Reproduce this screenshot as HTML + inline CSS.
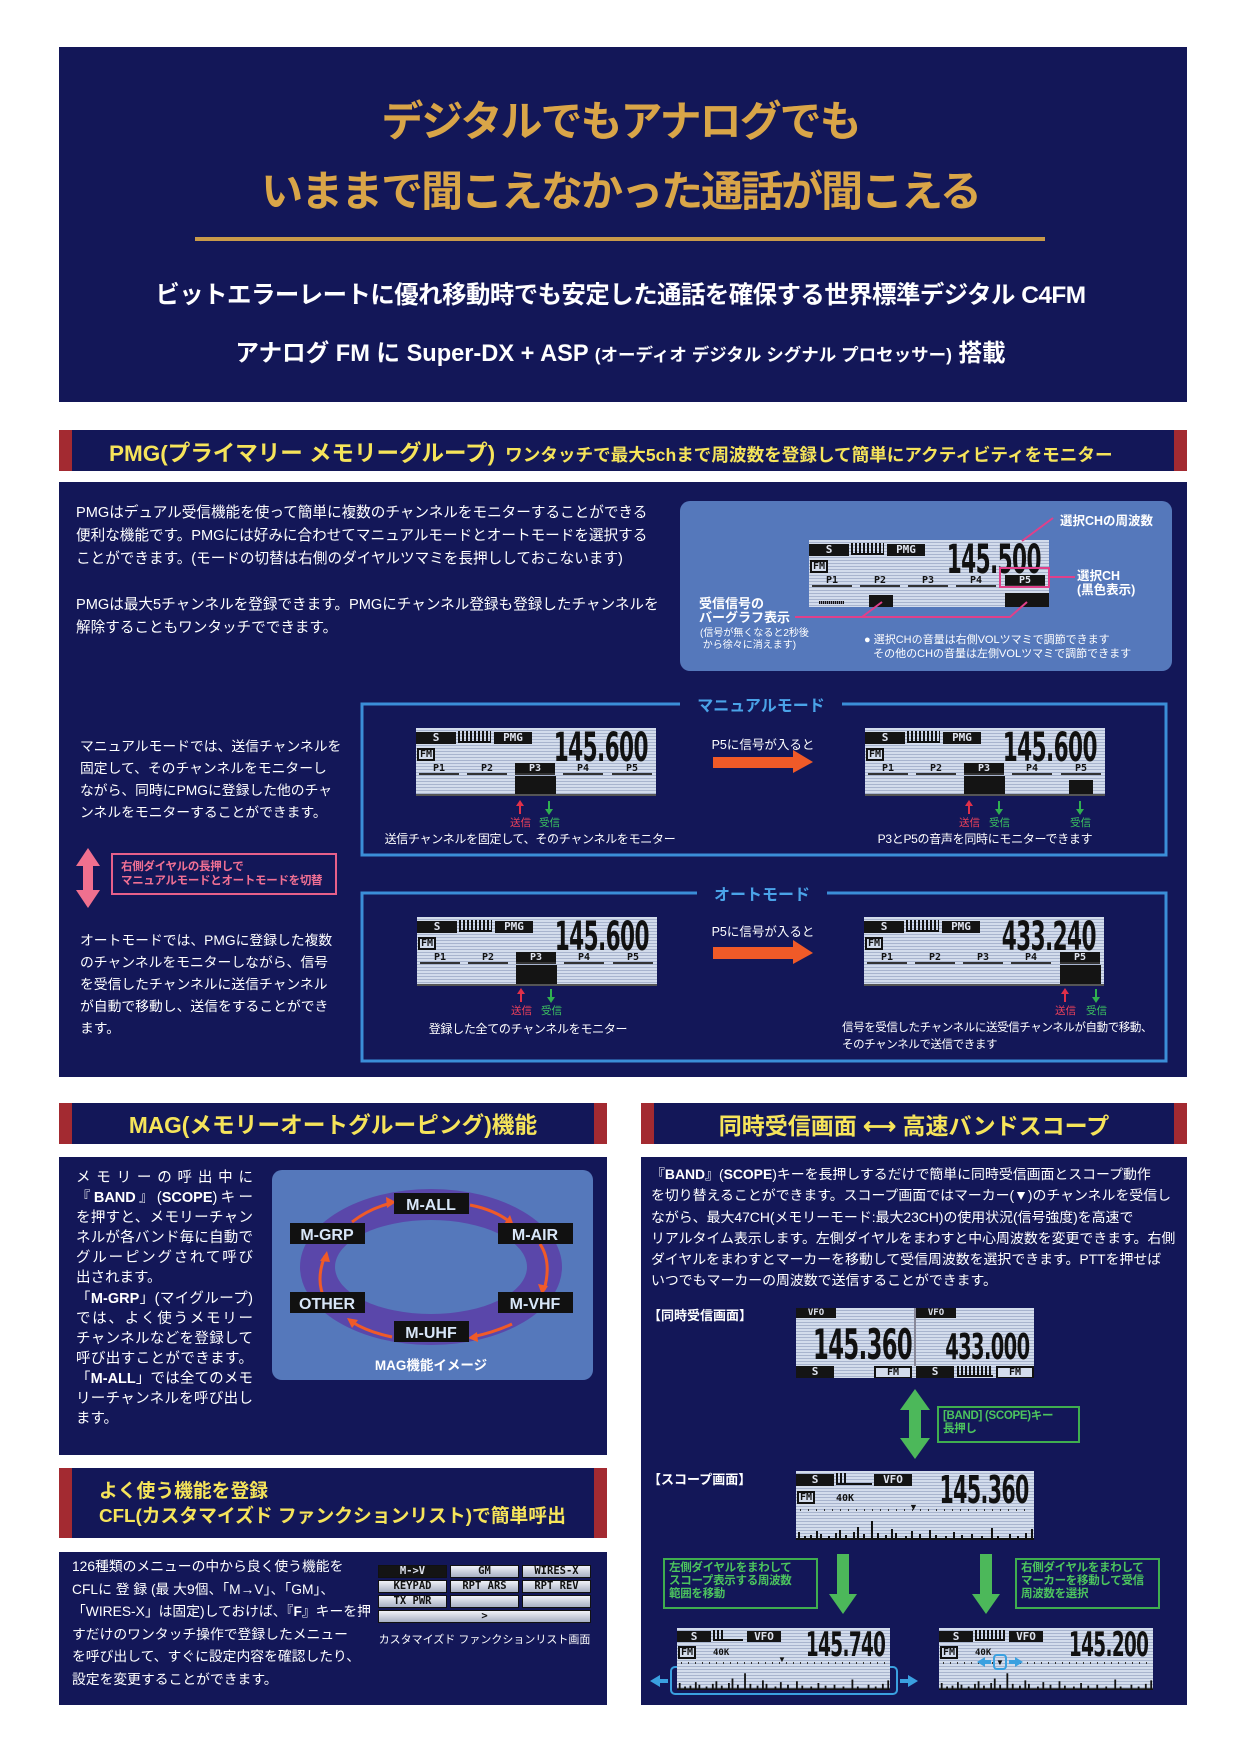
<!DOCTYPE html>
<html><head><meta charset="utf-8">
<style>
*{margin:0;padding:0;box-sizing:border-box}
body{width:1241px;height:1754px;background:#fff;position:relative;overflow:hidden;font-family:"Liberation Sans","Noto Sans CJK JP",sans-serif;color:#fff}
.a{position:absolute}
.nv{position:absolute;background:#131758}
.hd{position:absolute;background:#131758;border-left:13px solid #a32a31;border-right:13px solid #a32a31;color:#f6e45a;font-weight:bold}
.t{position:absolute;white-space:nowrap}
.lcd{position:absolute;overflow:hidden;background:repeating-linear-gradient(#d3dcec 0 2px,#a8b4ce 2px 3px)}
.lcd>*{position:absolute}
.k{background:#141414;color:#dfe3ee;font:bold 11px "DejaVu Sans Mono",monospace;text-align:center}
.fq{font-family:"Liberation Sans Narrow","DejaVu Sans Condensed","Liberation Sans",sans-serif;color:#111;transform:scaleX(.6);transform-origin:right top;white-space:nowrap;line-height:1;letter-spacing:-1px;font-weight:bold}
.mt{background:repeating-linear-gradient(90deg,#111 0 2px,transparent 2px 4px);border-bottom:2px solid #111}
.fm{border:2px solid #111;font:bold 10px "DejaVu Sans Mono",monospace;color:#111;background:#d3dcec;line-height:9px;padding:0 1px}
.p{top:35px;width:40px;height:12px;font:bold 10px "DejaVu Sans Mono",monospace;color:#111;text-align:center;border-bottom:2px solid #333;line-height:11px}
.ps{background:#141414;color:#dfe3ee}
.blk{background:#141414}
.jl{display:block;text-align:justify;text-align-last:justify;white-space:nowrap;height:20px}
.gb{position:absolute;border:2px solid #3fae4f;color:#4cc45e;font-weight:bold;font-size:11.5px;line-height:13px;padding:2px 4px;white-space:nowrap;letter-spacing:-.3px}
.cf{position:absolute;height:13px;border:1px solid #111;background:linear-gradient(#f0f2f8,#a8b0c4);font:bold 10.5px "DejaVu Sans Mono",monospace;color:#111;text-align:center;line-height:11px}
</style></head><body>

<div class="nv" style="left:59px;top:47px;width:1128px;height:355px"></div>
<div class="t" style="left:0;width:1241px;text-align:center;top:88px;font-size:42px;font-weight:bold;color:#d9a548;letter-spacing:-2px">デジタルでもアナログでも</div>
<div class="t" style="left:0;width:1241px;text-align:center;top:158px;font-size:42px;font-weight:bold;color:#d9a548;letter-spacing:-2px">いままで聞こえなかった通話が聞こえる</div>
<div class="a" style="left:195px;top:237px;width:850px;height:4px;background:#c99a4a"></div>
<div class="t" style="left:0;width:1241px;text-align:center;top:276px;font-size:24.4px;font-weight:bold;letter-spacing:-.5px">ビットエラーレートに優れ移動時でも安定した通話を確保する世界標準デジタル C4FM</div>
<div class="t" style="left:0;width:1241px;text-align:center;top:334px;font-size:23.6px;font-weight:bold">アナログ FM に Super-DX + ASP <span style="font-size:17.5px">(オーディオ デジタル シグナル プロセッサー)</span> 搭載</div>

<div class="hd" style="left:59px;top:430px;width:1128px;height:41px"></div>
<div class="t" style="left:109px;top:436px;color:#f6e45a;font-weight:bold;font-size:22.5px">PMG(プライマリー メモリーグループ)<span style="font-size:17.6px;margin-left:10px">ワンタッチで最大5chまで周波数を登録して簡単にアクティビティをモニター</span></div>

<div class="nv" style="left:59px;top:482px;width:1128px;height:595px"></div>
<div class="a" style="left:76px;top:502px;font-size:14.6px;line-height:23px;white-space:nowrap">PMGはデュアル受信機能を使って簡単に複数のチャンネルをモニターすることができる<br>便利な機能です。PMGには好みに合わせてマニュアルモードとオートモードを選択する<br>ことができます。(モードの切替は右側のダイヤルツマミを長押ししておこないます)<br><br>PMGは最大5チャンネルを登録できます。PMGにチャンネル登録も登録したチャンネルを<br>解除することもワンタッチでできます。</div>

<div class="a" style="left:680px;top:501px;width:492px;height:170px;background:#5578bb;border-radius:10px"></div>
<div class="lcd" style="left:809px;top:540px;width:240px;height:67px">
<b class="k" style="left:0;top:4px;width:40px;height:12px;line-height:12px">S</b>
<i class="mt" style="left:42px;top:3px;width:33px;height:12px"></i>
<b class="k" style="left:78px;top:4px;width:38px;height:12px;line-height:12px">PMG</b>
<span class="fq" style="right:8px;top:0;font-size:40px">145.500</span>
<b class="fm" style="left:1px;top:20px">FM</b>
<span class="p" style="left:3px">P1</span><span class="p" style="left:51px">P2</span><span class="p" style="left:99px">P3</span><span class="p" style="left:147px">P4</span><span class="p ps" style="left:196px">P5</span>
<i class="blk" style="left:60px;top:55px;width:24px;height:12px"></i>
<i class="blk" style="left:196px;top:53px;width:44px;height:14px"></i>
<i style="left:10px;top:61px;width:25px;height:3px;background:repeating-linear-gradient(90deg,#111 0 1px,#889 1px 2px)"></i>
</div>
<svg class="a" style="left:0;top:0" width="1241" height="1754">
<g stroke="#e0408a" stroke-width="2" fill="none">
<path d="M1022 541L1053 518"/>
<rect x="1000" y="568" width="49" height="19"/>
<path d="M1049 577H1075"/>
<path d="M795 617H1010L1027 602M862 617L882 602"/>
</g>
</svg>
<div class="t" style="left:1060px;top:510px;font-size:12.5px;font-weight:bold">選択CHの周波数</div>
<div class="t" style="left:1077px;top:569px;font-size:12.5px;font-weight:bold;line-height:14px">選択CH<br>(黒色表示)</div>
<div class="t" style="left:699px;top:597px;font-size:13px;font-weight:bold;line-height:14px">受信信号の<br>バーグラフ表示</div>
<div class="t" style="left:700px;top:628px;font-size:10px;line-height:12px">(信号が無くなると2秒後<br>&nbsp;から徐々に消えます)</div>
<div class="t" style="left:864px;top:633px;font-size:11px;line-height:14px">● 選択CHの音量は右側VOLツマミで調節できます<br>&nbsp;&nbsp;&nbsp;その他のCHの音量は左側VOLツマミで調節できます</div>

<div class="a" style="left:80px;top:736px;font-size:13.8px;line-height:22px;white-space:nowrap">マニュアルモードでは、送信チャンネルを<br>固定して、そのチャンネルをモニターし<br>ながら、同時にPMGに登録した他のチャ<br>ンネルをモニターすることができます。</div>
<div class="a" style="left:80px;top:930px;font-size:13.8px;line-height:22px;white-space:nowrap">オートモードでは、PMGに登録した複数<br>のチャンネルをモニターしながら、信号<br>を受信したチャンネルに送信チャンネル<br>が自動で移動し、送信をすることができ<br>ます。</div>
<div class="a" style="left:111px;top:853px;width:226px;height:42px;border:2px solid #e8608a;color:#f07094;font-size:11.5px;font-weight:bold;line-height:14px;padding:5px 8px;white-space:nowrap;letter-spacing:-.3px">右側ダイヤルの長押しで<br>マニュアルモードとオートモードを切替</div>

<svg class="a" style="left:0;top:0" width="1241" height="1754">
<rect x="362" y="704" width="804" height="151" fill="none" stroke="#3b8ed8" stroke-width="3"/>
<rect x="362" y="893" width="804" height="168" fill="none" stroke="#3b8ed8" stroke-width="3"/>
<rect x="680" y="694" width="162" height="20" fill="#131758"/>
<rect x="697" y="883" width="130" height="20" fill="#131758"/>
<polygon points="88,848 100,866 93,866 93,890 100,890 88,908 76,890 83,890 83,866 76,866" fill="#f0708f"/>
<g fill="#f05a28">
<polygon points="713,757 793,757 793,750 813,762 793,773 793,768 713,768"/>
<polygon points="713,947 793,947 793,940 813,953 793,964 793,959 713,959"/>
</g>
<g stroke-width="2">
<g stroke="#e0304a"><path d="M520 814V804"/><path d="M969 814V804"/><path d="M521 1002V992"/><path d="M1065 1002V992"/></g>
<g stroke="#30b050"><path d="M549 801V811"/><path d="M999 801V811"/><path d="M1080 801V811"/><path d="M551 989V999"/><path d="M1096 989V999"/></g>
</g>
<g fill="#e0304a"><polygon points="516,806 520,800 524,806"/><polygon points="965,806 969,800 973,806"/><polygon points="517,994 521,988 525,994"/><polygon points="1061,994 1065,988 1069,994"/></g>
<g fill="#30b050"><polygon points="545,809 549,815 553,809"/><polygon points="995,809 999,815 1003,809"/><polygon points="1076,809 1080,815 1084,809"/><polygon points="547,997 551,1003 555,997"/><polygon points="1092,997 1096,1003 1100,997"/></g>
</svg>
<div class="t" style="left:680px;width:162px;text-align:center;top:692px;color:#4aa3e8;font-weight:bold;font-size:16px">マニュアルモード</div>
<div class="t" style="left:697px;width:130px;text-align:center;top:881px;color:#4aa3e8;font-weight:bold;font-size:16px">オートモード</div>
<div class="t" style="left:703px;width:120px;text-align:center;top:734px;font-size:12.5px">P5に信号が入ると</div>
<div class="t" style="left:703px;width:120px;text-align:center;top:921px;font-size:12.5px">P5に信号が入ると</div>
<div class="t" style="font-size:10.5px;color:#e8405a;left:510px;top:815px">送信</div><div class="t" style="font-size:10.5px;color:#3cc060;left:539px;top:815px">受信</div>
<div class="t" style="font-size:10.5px;color:#e8405a;left:959px;top:815px">送信</div><div class="t" style="font-size:10.5px;color:#3cc060;left:989px;top:815px">受信</div><div class="t" style="font-size:10.5px;color:#3cc060;left:1070px;top:815px">受信</div>
<div class="t" style="font-size:10.5px;color:#e8405a;left:511px;top:1003px">送信</div><div class="t" style="font-size:10.5px;color:#3cc060;left:541px;top:1003px">受信</div>
<div class="t" style="font-size:10.5px;color:#e8405a;left:1055px;top:1003px">送信</div><div class="t" style="font-size:10.5px;color:#3cc060;left:1086px;top:1003px">受信</div>
<div class="t" style="left:380px;width:300px;text-align:center;top:830px;font-size:12px;letter-spacing:-.3px">送信チャンネルを固定して、そのチャンネルをモニター</div>
<div class="t" style="left:850px;width:270px;text-align:center;top:830px;font-size:12px;letter-spacing:-.3px">P3とP5の音声を同時にモニターできます</div>
<div class="t" style="left:380px;width:296px;text-align:center;top:1020px;font-size:12px;letter-spacing:-.3px">登録した全てのチャンネルをモニター</div>
<div class="t" style="left:842px;top:1020px;font-size:11.5px;line-height:17px;letter-spacing:-.4px">信号を受信したチャンネルに送受信チャンネルが自動で移動、<br>そのチャンネルで送信できます</div>

<div class="lcd" style="left:416px;top:728px;width:240px;height:68px">
<b class="k" style="left:0;top:4px;width:40px;height:12px;line-height:12px">S</b><i class="mt" style="left:42px;top:3px;width:33px;height:12px"></i><b class="k" style="left:78px;top:4px;width:38px;height:12px;line-height:12px">PMG</b>
<span class="fq" style="right:8px;top:0;font-size:40px">145.600</span><b class="fm" style="left:1px;top:20px">FM</b>
<span class="p" style="left:3px">P1</span><span class="p" style="left:51px">P2</span><span class="p ps" style="left:99px">P3</span><span class="p" style="left:147px">P4</span><span class="p" style="left:196px">P5</span>
<i class="blk" style="left:99px;top:48px;width:41px;height:18px"></i><i style="left:0;top:66px;width:240px;height:2px;background:#555"></i></div>
<div class="lcd" style="left:865px;top:728px;width:240px;height:68px">
<b class="k" style="left:0;top:4px;width:40px;height:12px;line-height:12px">S</b><i class="mt" style="left:42px;top:3px;width:33px;height:12px"></i><b class="k" style="left:78px;top:4px;width:38px;height:12px;line-height:12px">PMG</b>
<span class="fq" style="right:8px;top:0;font-size:40px">145.600</span><b class="fm" style="left:1px;top:20px">FM</b>
<span class="p" style="left:3px">P1</span><span class="p" style="left:51px">P2</span><span class="p ps" style="left:99px">P3</span><span class="p" style="left:147px">P4</span><span class="p" style="left:196px">P5</span>
<i class="blk" style="left:99px;top:48px;width:41px;height:18px"></i><i class="blk" style="left:204px;top:52px;width:24px;height:14px"></i><i style="left:0;top:66px;width:240px;height:2px;background:#555"></i></div>
<div class="lcd" style="left:417px;top:917px;width:240px;height:69px">
<b class="k" style="left:0;top:4px;width:40px;height:12px;line-height:12px">S</b><i class="mt" style="left:42px;top:3px;width:33px;height:12px"></i><b class="k" style="left:78px;top:4px;width:38px;height:12px;line-height:12px">PMG</b>
<span class="fq" style="right:8px;top:0;font-size:40px">145.600</span><b class="fm" style="left:1px;top:20px">FM</b>
<span class="p" style="left:3px">P1</span><span class="p" style="left:51px">P2</span><span class="p ps" style="left:99px">P3</span><span class="p" style="left:147px">P4</span><span class="p" style="left:196px">P5</span>
<i class="blk" style="left:99px;top:48px;width:41px;height:19px"></i><i style="left:0;top:67px;width:240px;height:2px;background:#555"></i></div>
<div class="lcd" style="left:864px;top:917px;width:240px;height:69px">
<b class="k" style="left:0;top:4px;width:40px;height:12px;line-height:12px">S</b><i class="mt" style="left:42px;top:3px;width:33px;height:12px"></i><b class="k" style="left:78px;top:4px;width:38px;height:12px;line-height:12px">PMG</b>
<span class="fq" style="right:8px;top:0;font-size:40px">433.240</span><b class="fm" style="left:1px;top:20px">FM</b>
<span class="p" style="left:3px">P1</span><span class="p" style="left:51px">P2</span><span class="p" style="left:99px">P3</span><span class="p" style="left:147px">P4</span><span class="p ps" style="left:196px">P5</span>
<i class="blk" style="left:196px;top:48px;width:41px;height:19px"></i><i style="left:0;top:67px;width:240px;height:2px;background:#555"></i></div>

<div class="hd" style="left:59px;top:1103px;width:548px;height:41px"></div>
<div class="t" style="left:59px;width:548px;text-align:center;top:1107px;color:#f6e45a;font-weight:bold;font-size:22.7px">MAG(メモリーオートグルーピング)機能</div>
<div class="nv" style="left:59px;top:1157px;width:548px;height:298px"></div>
<div class="a" style="left:76px;top:1168px;width:177px;font-size:14.5px;line-height:20.7px">
<span class="jl">メモリーの呼出中に</span><span class="jl">『<b>BAND</b>』(<b>SCOPE</b>)キー</span><span class="jl">を押すと、メモリーチャン</span><span class="jl">ネルが各バンド毎に自動で</span><span class="jl">グルーピングされて呼び</span><span style="display:block;height:20.7px">出されます。</span><span class="jl">「<b>M-GRP</b>」(マイグループ)</span><span class="jl">では、よく使うメモリー</span><span class="jl">チャンネルなどを登録して</span><span class="jl">呼び出すことができます。</span><span class="jl">「<b>M-ALL</b>」では全てのメモ</span><span class="jl">リーチャンネルを呼び出し</span><span style="display:block">ます。</span></div>
<div class="a" style="left:272px;top:1170px;width:321px;height:210px;background:#5578bb;border-radius:10px"></div>
<svg class="a" style="left:0;top:0" width="1241" height="1754">
<ellipse cx="431" cy="1267" rx="131" ry="78" fill="#5a47aa"/>
<ellipse cx="431" cy="1267" rx="96" ry="47" fill="#5578bb"/>
<g stroke="#f05a28" stroke-width="3" fill="none">
<path d="M352 1222Q370 1208 392 1203"/><path d="M470 1205Q495 1210 510 1222"/><path d="M540 1244Q552 1262 544 1290"/><path d="M512 1324Q495 1332 472 1337"/><path d="M392 1337Q368 1332 352 1322"/><path d="M325 1300Q315 1280 325 1256"/>
</g>
<g fill="#f05a28"><polygon points="396,1202 386,1197 387,1208"/><polygon points="514,1226 504,1224 510,1215"/><polygon points="542,1295 538,1284 548,1286"/><polygon points="468,1338 477,1332 478,1342"/><polygon points="347,1318 358,1320 352,1328"/><polygon points="327,1251 320,1261 330,1262"/></g>
<g fill="#111"><rect x="394" y="1193" width="75" height="21"/><rect x="290" y="1223" width="75" height="21"/><rect x="498" y="1223" width="75" height="21"/><rect x="290" y="1292" width="75" height="21"/><rect x="498" y="1292" width="75" height="21"/><rect x="394" y="1321" width="75" height="21"/></g>
<g fill="#d8e6f8" font-family="Liberation Sans" font-weight="bold" font-size="16" text-anchor="middle">
<text x="431" y="1210">M-ALL</text><text x="327" y="1240">M-GRP</text><text x="535" y="1240">M-AIR</text><text x="327" y="1309">OTHER</text><text x="535" y="1309">M-VHF</text><text x="431" y="1338">M-UHF</text></g>
<text x="431" y="1370" fill="#fff" font-family="Liberation Sans,Noto Sans CJK JP" font-weight="bold" font-size="13.5" text-anchor="middle">MAG機能イメージ</text>
</svg>

<div class="hd" style="left:59px;top:1468px;width:548px;height:70px"></div>
<div class="t" style="left:99px;top:1478px;color:#f6e45a;font-weight:bold;font-size:18.8px;line-height:25px">よく使う機能を登録<br>CFL(カスタマイズド ファンクションリスト)で簡単呼出</div>
<div class="nv" style="left:59px;top:1552px;width:548px;height:153px"></div>
<div class="a" style="left:72px;top:1556px;font-size:13.8px;line-height:22.6px;white-space:nowrap">126種類のメニューの中から良く使う機能を<br>CFLに 登 録 (最 大9個、「M→V」、「GM」、<br>「WIRES-X」は固定)しておけば、『<b>F</b>』キーを押<br>すだけのワンタッチ操作で登録したメニュー<br>を呼び出して、すぐに設定内容を確認したり、<br>設定を変更することができます。</div>
<div class="a" style="left:378px;top:1565px;width:213px;height:59px;background:#131758">
<div class="cf" style="left:0;top:0;width:69px;background:#141414;color:#dfe3ee">M-&gt;V</div><div class="cf" style="left:72px;top:0;width:69px">GM</div><div class="cf" style="left:144px;top:0;width:69px">WIRES-X</div>
<div class="cf" style="left:0;top:15px;width:69px">KEYPAD</div><div class="cf" style="left:72px;top:15px;width:69px">RPT ARS</div><div class="cf" style="left:144px;top:15px;width:69px">RPT REV</div>
<div class="cf" style="left:0;top:30px;width:69px">TX PWR</div><div class="cf" style="left:72px;top:30px;width:69px"></div><div class="cf" style="left:144px;top:30px;width:69px"></div>
<div class="cf" style="left:0;top:45px;width:213px">&gt;</div></div>
<div class="t" style="left:378px;width:213px;text-align:center;top:1631px;font-size:11px">カスタマイズド ファンクションリスト画面</div>

<div class="hd" style="left:641px;top:1103px;width:546px;height:41px"></div>
<div class="t" style="left:641px;width:546px;text-align:center;top:1107px;color:#f6e45a;font-weight:bold;font-size:23px">同時受信画面 ⟷ 高速バンドスコープ</div>
<div class="nv" style="left:641px;top:1157px;width:546px;height:548px"></div>
<div class="a" style="left:651px;top:1164px;font-size:13.9px;line-height:21.3px;white-space:nowrap">『<b>BAND</b>』(<b>SCOPE</b>)キーを長押しするだけで簡単に同時受信画面とスコープ動作<br>を切り替えることができます。スコープ画面ではマーカー(▼)のチャンネルを受信し<br>ながら、最大47CH(メモリーモード:最大23CH)の使用状況(信号強度)を高速で<br>リアルタイム表示します。左側ダイヤルをまわすと中心周波数を変更できます。右側<br>ダイヤルをまわすとマーカーを移動して受信周波数を選択できます。PTTを押せば<br>いつでもマーカーの周波数で送信することができます。</div>
<div class="t" style="left:648px;top:1305px;font-size:13px;font-weight:bold">【同時受信画面】</div>
<div class="t" style="left:648px;top:1469px;font-size:13px;font-weight:bold">【スコープ画面】</div>

<div class="lcd" style="left:796px;top:1308px;width:238px;height:70px">
<b class="k" style="left:0;top:0;width:40px;height:10px;line-height:10px;font-size:9px">VFO</b><b class="k" style="left:120px;top:0;width:40px;height:10px;line-height:10px;font-size:9px">VFO</b>
<i style="left:118px;top:0;width:2px;height:58px;background:#889"></i>
<span class="fq" style="right:122px;top:16px;font-size:42px">145.360</span>
<span class="fq" style="right:4px;top:22px;font-size:36px">433.000</span>
<b class="k" style="left:0;top:58px;width:38px;height:12px;line-height:12px">S</b><b class="fm" style="left:78px;top:58px;width:38px;text-align:center">FM</b>
<b class="k" style="left:120px;top:58px;width:38px;height:12px;line-height:12px">S</b><i class="mt" style="left:161px;top:58px;width:36px;height:11px"></i><b class="fm" style="left:200px;top:58px;width:38px;text-align:center">FM</b>
</div>

<svg class="a" style="left:0;top:0" width="1241" height="1754">
<defs><path id="sp" d="M0 24H238M3 24v-7M9 24v-3M15 24v-4M21 24v-8M25 24v-5M33 24v-3M40 24v-6M44 24v-9M50 24v-4M58 24v-7M62 24v-12M68 24v-5M76 24v-18M82 24v-6M90 24v-4M96 24v-10M100 24v-6M110 24v-3M116 24v-8M124 24v-5M134 24v-9M140 24v-4M150 24v-3M158 24v-7M166 24v-4M176 24v-5M186 24v-3M196 24v-11M202 24v-3M214 24v-5M222 24v-3M230 24v-6M236 24v-10" stroke="#111" stroke-width="2"/></defs>
<g fill="#4cb85a"><polygon points="915,1389 930,1410 921,1410 921,1438 930,1438 915,1459 900,1438 909,1438 909,1410 900,1410"/>
<polygon points="837,1554 849,1554 849,1594 857,1594 843,1614 829,1594 837,1594"/>
<polygon points="980,1554 992,1554 992,1594 1000,1594 986,1614 972,1594 980,1594"/></g>
<rect x="671" y="1667" width="226" height="27" rx="4" fill="none" stroke="#3aa0e0" stroke-width="2"/>
<g fill="#3aa0e0"><polygon points="650,1681 660,1675 660,1679 668,1679 668,1683 660,1683 660,1687"/><polygon points="918,1681 908,1675 908,1679 900,1679 900,1683 908,1683 908,1687"/></g>
</svg>
<div class="gb" style="left:937px;top:1406px;width:143px;height:37px">[BAND] (SCOPE)キー<br>長押し</div>
<div class="gb" style="left:663px;top:1558px;width:155px;height:51px">左側ダイヤルをまわして<br>スコープ表示する周波数<br>範囲を移動</div>
<div class="gb" style="left:1015px;top:1558px;width:145px;height:51px">右側ダイヤルをまわして<br>マーカーを移動して受信<br>周波数を選択</div>

<div class="lcd" style="left:796px;top:1471px;width:238px;height:69px">
<b class="k" style="left:0;top:3px;width:38px;height:12px;line-height:12px">S</b><i class="mt" style="left:40px;top:2px;width:36px;height:12px;background:repeating-linear-gradient(90deg,#111 0 2px,transparent 2px 4px) 0 0/10px 100% no-repeat"></i><b class="k" style="left:78px;top:3px;width:38px;height:12px;line-height:12px">VFO</b>
<span class="fq" style="right:5px;top:0;font-size:38px">145.360</span><b class="fm" style="left:1px;top:20px">FM</b><b style="left:40px;top:22px;font:bold 10px 'DejaVu Sans Mono';color:#111">40K</b>
<i style="left:4px;top:38px;width:230px;height:2px;background:repeating-linear-gradient(90deg,#333 0 1px,transparent 1px 8px)"></i><b style="left:113px;top:31px;font-size:9px;color:#111">▼</b>
<svg style="left:0;top:44px" width="238" height="25"><use href="#sp"/></svg></div>

<div class="lcd" style="left:677px;top:1628px;width:213px;height:62px">
<b class="k" style="left:0;top:3px;width:34px;height:11px;line-height:11px">S</b><i class="mt" style="left:36px;top:2px;width:30px;height:11px;background:repeating-linear-gradient(90deg,#111 0 2px,transparent 2px 4px) 0 0/10px 100% no-repeat"></i><b class="k" style="left:70px;top:3px;width:34px;height:11px;line-height:11px">VFO</b>
<span class="fq" style="right:5px;top:0;font-size:34px">145.740</span><b class="fm" style="left:1px;top:18px">FM</b><b style="left:36px;top:20px;font:bold 9px 'DejaVu Sans Mono';color:#111">40K</b>
<i style="left:4px;top:34px;width:205px;height:2px;background:repeating-linear-gradient(90deg,#333 0 1px,transparent 1px 7px)"></i><b style="left:101px;top:27px;font-size:8px;color:#111">▼</b>
<svg style="left:0;top:40px" width="213" height="22" viewBox="0 0 238 25" preserveAspectRatio="none"><use href="#sp"/></svg></div>

<div class="lcd" style="left:939px;top:1628px;width:214px;height:62px">
<b class="k" style="left:0;top:3px;width:34px;height:11px;line-height:11px">S</b><i class="mt" style="left:36px;top:2px;width:30px;height:11px"></i><b class="k" style="left:70px;top:3px;width:34px;height:11px;line-height:11px">VFO</b>
<span class="fq" style="right:5px;top:0;font-size:34px">145.200</span><b class="fm" style="left:1px;top:18px">FM</b><b style="left:36px;top:20px;font:bold 9px 'DejaVu Sans Mono';color:#111">40K</b>
<i style="left:4px;top:34px;width:205px;height:2px;background:repeating-linear-gradient(90deg,#333 0 1px,transparent 1px 7px)"></i>
<svg style="left:0;top:40px" width="214" height="22" viewBox="0 0 238 25" preserveAspectRatio="none"><use href="#sp"/></svg>
<svg style="left:0;top:0" width="214" height="62"><rect x="55" y="27" width="12" height="14" rx="3" fill="none" stroke="#3aa0e0" stroke-width="2"/><text x="61" y="37" font-size="8" text-anchor="middle" fill="#111">▼</text><g fill="#3aa0e0"><polygon points="38,34 46,29 46,32 52,32 52,36 46,36 46,39"/><polygon points="84,34 76,29 76,32 70,32 70,36 76,36 76,39"/></g></svg>
</div>

</body></html>
